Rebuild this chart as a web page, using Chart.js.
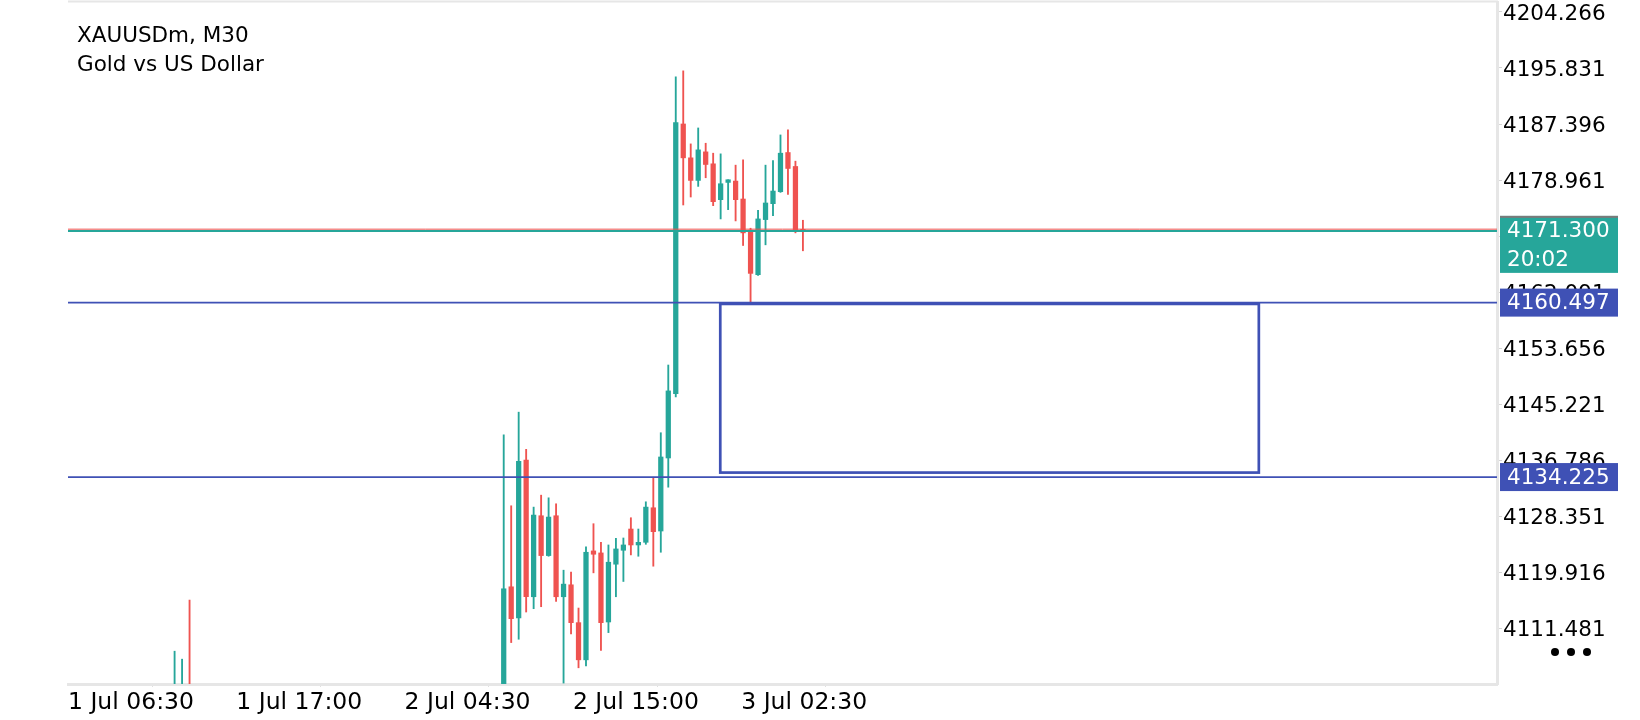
<!DOCTYPE html>
<html>
<head>
<meta charset="utf-8">
<title>XAUUSDm, M30</title>
<script src="https://cdn.jsdelivr.net/npm/chart.js@4.4.1/dist/chart.umd.min.js"></script>
<style>
  html, body { margin: 0; padding: 0; background: #fff; }
  #wrap { width: 1640px; height: 720px; }
</style>
</head>
<body>
<div id="wrap"><canvas id="myChart" width="1640" height="720"></canvas></div>
<script>
// time axis labels and where they sit (in bar slots)
const tickLabels = ['1 Jul 06:30', '1 Jul 17:00', '2 Jul 04:30', '2 Jul 15:00', '3 Jul 02:30'];
const tickSlots = [0, 22.5, 45, 67.5, 90];

// price axis labels
const priceTicks = [4111.481, 4119.916, 4128.351, 4136.786, 4145.221, 4153.656,
                    4162.091, 4170.526, 4178.961, 4187.396, 4195.831, 4204.266];

// candle slots: three early bars, then a run of 41 bars
let slots = [14.25, 15.25, 16.25];
for (let i = 0; i < 41; i++) {
    slots.push(58.25 + i);
}

const opens = [4098.0, 4099.0, 4101.5,
    4102.5, 4117.7, 4113.0, 4136.8, 4116.2, 4128.4, 4122.4, 4128.4, 4116.2, 4118.0,
    4112.3, 4106.7, 4123.1, 4122.8, 4112.4, 4121.1, 4123.2, 4126.4, 4124.0, 4124.4,
    4129.6, 4126.1, 4137.1, 4146.8, 4187.4, 4182.3, 4178.9, 4183.2, 4181.4, 4176.0,
    4178.6, 4178.8, 4176.1, 4171.4, 4164.7, 4173.0, 4175.4, 4177.2, 4183.1, 4181.0,
    4171.5];
const highs = [4108.0, 4106.8, 4115.7,
    4140.6, 4129.9, 4144.0, 4138.4, 4129.7, 4131.5, 4131.1, 4130.2, 4120.2, 4119.9,
    4114.5, 4123.7, 4127.2, 4124.4, 4124.0, 4125.0, 4125.05, 4128.1, 4126.4, 4130.5,
    4134.2, 4140.9, 4151.1, 4194.5, 4195.4, 4184.4, 4186.8, 4184.5, 4183.0, 4182.9,
    4179.0, 4181.2, 4182.0, 4171.7, 4174.4, 4181.2, 4181.9, 4185.75, 4186.5, 4181.8,
    4172.9];
const lows = [4096.0, 4097.0, 4097.5,
    4102.0, 4109.3, 4109.8, 4113.9, 4114.4, 4114.7, 4122.3, 4115.5, 4103.2, 4110.6,
    4105.5, 4105.8, 4119.8, 4108.1, 4110.8, 4116.2, 4118.5, 4122.5, 4122.3, 4124.1,
    4120.8, 4122.9, 4132.7, 4146.3, 4175.2, 4176.4, 4178.0, 4179.3, 4175.1, 4173.1,
    4174.5, 4172.8, 4169.1, 4160.6, 4164.6, 4169.2, 4173.6, 4177.1, 4176.8, 4171.0,
    4168.3];
const closes = [4101.0, 4102.0, 4099.0,
    4117.4, 4112.9, 4136.6, 4116.2, 4128.5, 4122.4, 4128.2, 4116.2, 4118.1, 4112.3,
    4106.7, 4122.9, 4122.6, 4112.3, 4121.4, 4123.4, 4124.0, 4124.0, 4124.4, 4129.7,
    4126.0, 4137.25, 4147.2, 4187.6, 4182.3, 4178.9, 4183.5, 4181.3, 4175.7, 4178.4,
    4179.0, 4176.0, 4171.0, 4164.9, 4173.1, 4175.5, 4177.3, 4183.0, 4180.7, 4171.4,
    4171.3];

// horizontal levels
const bidPrice = 4171.300;
const askPrice = 4171.560;
const levels = [4160.497, 4134.225];
const zoneSlots = [87.2, 159.2];
const zonePrices = [4160.3, 4134.9];
const clockText = '20:02';

const UP = '#26a69a';
const DOWN = '#ef5350';
const BLUE = '#3f51b5';
const FONT = 'DejaVu Sans';

const colors = opens.map((o, i) => closes[i] >= o ? UP : DOWN);

const overlay = {
    id: 'overlay',
    afterDatasetsDraw(chart) {
        const ctx = chart.ctx;
        const a = chart.chartArea;
        const xs = chart.scales.x;
        const ys = chart.scales.y;
        ctx.save();
        ctx.beginPath();
        ctx.rect(a.left, a.top, a.right - a.left, a.bottom - a.top);
        ctx.clip();

        // zone box
        const zx1 = xs.getPixelForValue(zoneSlots[0]);
        const zx2 = xs.getPixelForValue(zoneSlots[1]);
        const zy1 = ys.getPixelForValue(zonePrices[0]);
        const zy2 = ys.getPixelForValue(zonePrices[1]);
        ctx.strokeStyle = BLUE;
        ctx.lineWidth = 2.7;
        ctx.strokeRect(zx1, zy1, zx2 - zx1, zy2 - zy1);

        // level lines
        ctx.lineWidth = 1.7;
        levels.forEach(v => {
            const y = ys.getPixelForValue(v);
            ctx.beginPath();
            ctx.moveTo(a.left, y);
            ctx.lineTo(a.right, y);
            ctx.stroke();
        });

        // ask / bid
        let y = ys.getPixelForValue(askPrice);
        ctx.strokeStyle = DOWN;
        ctx.lineWidth = 1;
        ctx.beginPath();
        ctx.moveTo(a.left, y);
        ctx.lineTo(a.right, y);
        ctx.stroke();
        y = ys.getPixelForValue(bidPrice);
        ctx.strokeStyle = UP;
        ctx.lineWidth = 2;
        ctx.beginPath();
        ctx.moveTo(a.left, y);
        ctx.lineTo(a.right, y);
        ctx.stroke();
        ctx.restore();
    },
    afterDraw(chart) {
        const ctx = chart.ctx;
        const a = chart.chartArea;
        const ys = chart.scales.y;
        ctx.save();

        // top frame line
        ctx.strokeStyle = '#e6e6e6';
        ctx.lineWidth = 2;
        ctx.beginPath();
        ctx.moveTo(a.left, 1.5);
        ctx.lineTo(a.right + 1, 1.5);
        ctx.stroke();

        // title
        ctx.fillStyle = '#000';
        ctx.font = '21.5px "' + FONT + '"';
        ctx.textAlign = 'left';
        ctx.textBaseline = 'alphabetic';
        ctx.fillText('XAUUSDm, M30', 77, 41.7);
        ctx.fillText('Gold vs US Dollar', 77, 70.7);

        // price tags
        const bx = a.right + 3;
        const bw = 118;
        ctx.font = '21.5px "' + FONT + '"';
        levels.forEach(v => {
            const y = ys.getPixelForValue(v);
            ctx.fillStyle = BLUE;
            ctx.fillRect(bx, y - 14, bw, 28);
            ctx.fillStyle = '#fff';
            ctx.textBaseline = 'middle';
            ctx.fillText(v.toFixed(3), bx + 7, y + 1);
        });
        const by = ys.getPixelForValue(bidPrice);
        ctx.fillStyle = UP;
        ctx.fillRect(bx, by - 15, bw, 57);
        ctx.fillStyle = '#7a7a7a';
        ctx.fillRect(bx, by - 15, bw, 2);
        ctx.fillStyle = '#fff';
        ctx.textBaseline = 'alphabetic';
        ctx.fillText(bidPrice.toFixed(3), bx + 7, by + 6.5);
        ctx.fillText(clockText, bx + 7, by + 35.5);

        // menu dots
        ctx.fillStyle = '#000';
        [1555, 1571, 1587].forEach(x => {
            ctx.beginPath();
            ctx.arc(x, 652, 4, 0, Math.PI * 2);
            ctx.fill();
        });
        ctx.restore();
    }
};

const ctx = document.getElementById('myChart');

new Chart(ctx, {
    type: 'bar',
    data: {
        datasets: [{
            label: 'wick',
            data: slots.map((s, i) => ({ x: s, y: [lows[i], highs[i]] })),
            backgroundColor: colors,
            barThickness: 1.2,
            borderWidth: 0,
            grouped: false
        }, {
            label: 'body',
            data: slots.map((s, i) => ({ x: s, y: [opens[i], closes[i]] })),
            backgroundColor: colors,
            barThickness: 4.6,
            minBarLength: 1.5,
            borderWidth: 0,
            grouped: false
        }]
    },
    options: {
        responsive: false,
        animation: false,
        devicePixelRatio: 1,
        layout: { padding: { left: 68, top: 2, right: 0, bottom: 0 } },
        plugins: {
            legend: { display: false },
            tooltip: { enabled: false }
        },
        scales: {
            x: {
                type: 'linear',
                min: 0,
                max: 191.04,
                offset: false,
                afterBuildTicks: s => { s.ticks = tickSlots.map(v => ({ value: v })); },
                afterFit: s => {
                    s.height = 36;
                    s.paddingLeft = 0;
                    s.paddingRight = 0;
                },
                ticks: {
                    autoSkip: false,
                    maxRotation: 0,
                    align: 'start',
                    padding: 2,
                    color: '#000',
                    font: { family: FONT, size: 23.5 },
                    callback: (v, i) => tickLabels[i]
                },
                grid: { display: true, drawOnChartArea: false, drawTicks: true, tickLength: 3, color: '#e0e0e0' },
                border: { display: true, color: '#e6e6e6', width: 3 }
            },
            y: {
                position: 'right',
                min: 4103.06,
                max: 4205.77,
                afterBuildTicks: s => { s.ticks = priceTicks.map(v => ({ value: v })); },
                afterFit: s => {
                    s.width = 143;
                    s.paddingTop = 0;
                    s.paddingBottom = 0;
                },
                ticks: {
                    padding: 1,
                    labelOffset: 2,
                    color: '#000',
                    font: { family: FONT, size: 21.5 },
                    callback: v => v.toFixed(3)
                },
                grid: { display: true, drawOnChartArea: false, drawTicks: true, tickLength: 5, color: '#d6d6d6' },
                border: { display: true, color: '#e6e6e6', width: 3 }
            }
        }
    },
    plugins: [overlay]
});
</script>
</body>
</html>
